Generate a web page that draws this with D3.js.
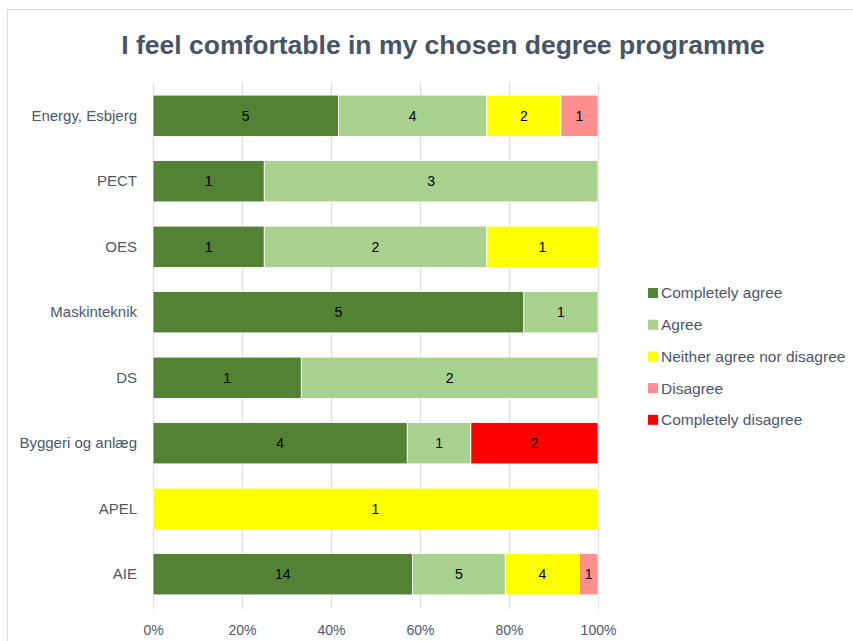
<!DOCTYPE html>
<html>
<head>
<meta charset="utf-8">
<script src="https://cdn.jsdelivr.net/npm/d3@7"></script>
<style>
  html, body { margin: 0; padding: 0; background: #fff; }
  svg { display: block; font-family: "Liberation Sans", Arial, sans-serif; }
</style>
</head>
<body>
<svg id="chart" width="853" height="641"></svg>
<script>
// Programmes, top to bottom
const programmes = ["Energy, Esbjerg", "PECT", "OES", "Maskinteknik", "DS", "Byggeri og anlæg", "APEL", "AIE"];

// Response categories (stack order, left to right)
const responses = ["Completely agree", "Agree", "Neither agree nor disagree", "Disagree", "Completely disagree"];
const responseColors = ["#548235", "#a9d18e", "#ffff00", "#ff8f8f", "#ff0000"];

// Answer counts per programme, one array per response category
const completelyAgree    = [5, 1, 1, 5, 1, 4, 0, 14];
const agree              = [4, 3, 2, 1, 2, 1, 0, 5];
const neither            = [2, 0, 1, 0, 0, 0, 1, 4];
const disagree           = [1, 0, 0, 0, 0, 0, 0, 1];
const completelyDisagree = [0, 0, 0, 0, 0, 2, 0, 0];

const percentTicks = [0, 0.2, 0.4, 0.6, 0.8, 1.0];

const seriesValues = [completelyAgree, agree, neither, disagree, completelyDisagree];

// Build rows of shares for d3.stack
const rows = programmes.map((p, i) => {
  const total = d3.sum(seriesValues, s => s[i]);
  const row = { programme: p };
  responses.forEach((r, k) => {
    row[r] = seriesValues[k][i] / total;
    row[r + "_n"] = seriesValues[k][i];
  });
  return row;
});

const stacked = d3.stack().keys(responses)(rows);

const svg = d3.select("#chart");
const textColor = "#465467";
const labelColor = "#4a586c";

// Outer chart frame
svg.append("rect")
  .attr("x", 7.5).attr("y", 9.5)
  .attr("width", 900).attr("height", 700)
  .attr("fill", "none").attr("stroke", "#d9d9d9").attr("stroke-width", 1);

// Title
svg.append("text")
  .attr("x", 443).attr("y", 54)
  .attr("text-anchor", "middle")
  .attr("font-size", 26.5).attr("font-weight", "bold")
  .attr("fill", textColor)
  .text("I feel comfortable in my chosen degree programme");

const margin = { left: 153, right: 255, top: 83, bottom: 34 };
const x = d3.scaleLinear().domain([0, 1]).range([margin.left, 853 - margin.right]);
const y = d3.scaleBand().domain(programmes).range([margin.top, 641 - margin.bottom]).paddingInner(0.37).paddingOuter(0.185);

// Vertical gridlines
svg.append("g").selectAll("line")
  .data(percentTicks).join("line")
  .attr("x1", d => Math.round(x(d)) + 0.5).attr("x2", d => Math.round(x(d)) + 0.5)
  .attr("y1", margin.top).attr("y2", 641 - margin.bottom + 2)
  .attr("stroke", "#d9dde6").attr("stroke-width", 1.3);

// X axis labels
const xAxis = d3.axisBottom(x).tickValues(percentTicks).tickFormat(d3.format(".0%")).tickSize(0).tickPadding(0);
const gx = svg.append("g").attr("transform", `translate(0, 635)`).call(xAxis);
gx.select(".domain").remove();
gx.selectAll("text").attr("font-size", 14).attr("fill", labelColor).attr("dy", 0).attr("y", 0);

// Y axis labels
const yAxis = d3.axisLeft(y).tickSize(0).tickPadding(0);
const gy = svg.append("g").attr("transform", `translate(137, 0)`).call(yAxis);
gy.select(".domain").remove();
gy.selectAll("text").attr("font-size", 15).attr("fill", labelColor).attr("font-family", "Liberation Sans, Arial, sans-serif");

// Stacked bars
const layers = svg.append("g").selectAll("g")
  .data(stacked).join("g")
  .attr("fill", (d, i) => responseColors[i]);

layers.selectAll("rect")
  .data(d => d.filter(s => s[1] - s[0] > 0))
  .join("rect")
  .attr("x", d => x(d[0]))
  .attr("y", d => y(d.data.programme))
  .attr("width", d => x(d[1]) - x(d[0]))
  .attr("height", y.bandwidth())
  .attr("stroke", "#ffffff").attr("stroke-width", 0.8);

// Count labels inside segments
layers.each(function(layer) {
  d3.select(this).selectAll("text")
    .data(layer.filter(s => s[1] - s[0] > 0))
    .join("text")
    .attr("x", d => (x(d[0]) + x(d[1])) / 2)
    .attr("y", d => y(d.data.programme) + y.bandwidth() / 2)
    .attr("dy", "0.35em")
    .attr("text-anchor", "middle")
    .attr("font-size", 14)
    .attr("fill", "#000")
    .text(d => d.data[layer.key + "_n"]);
});

// Legend
const legend = svg.append("g").attr("transform", "translate(648, 293)");
const item = legend.selectAll("g").data(responses).join("g")
  .attr("transform", (d, i) => `translate(0, ${i * 31.7})`);
item.append("rect")
  .attr("x", 0).attr("y", -5)
  .attr("width", 10).attr("height", 10)
  .attr("fill", (d, i) => responseColors[i]);
item.append("text")
  .attr("x", 13).attr("y", 0).attr("dy", "0.35em")
  .attr("font-size", 15.5).attr("fill", labelColor)
  .text(d => d);
</script>
</body>
</html>
